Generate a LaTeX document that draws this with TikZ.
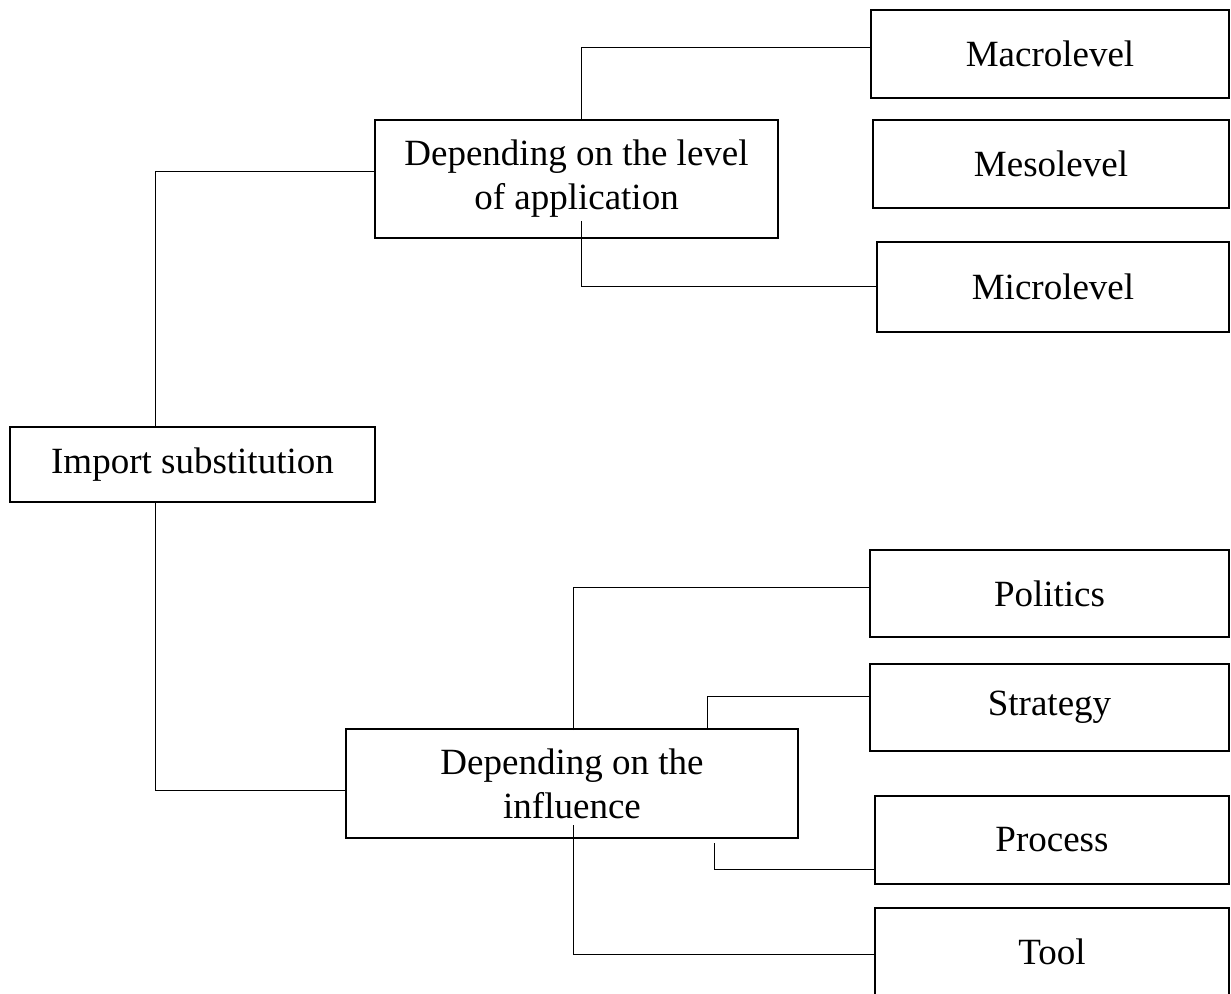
\documentclass[tikz,border=0pt]{standalone}
\usepackage{fontspec}
\setmainfont{Liberation Serif}
\usetikzlibrary{positioning}

\begin{document}
\begin{tikzpicture}[x=0.5pt, y=-0.5pt,
  box/.style={draw, line width=1pt, align=center, inner sep=2pt,
    font=\fontsize{18.5}{22}\selectfont},
  link/.style={line width=0.5pt}]
\useasboundingbox (0,0) rectangle (1231,994);
\node[box, minimum width=182.5pt, minimum height=37.5pt] (imp) at (192.5,464.5) {Import substitution};
\node[box, minimum width=201.5pt, minimum height=59pt] (lvl) at (576.5,179) {Depending on the level\\of application};
\node[box, minimum width=226pt, minimum height=54.5pt] (infl) at (572,783.5) {Depending on the\\influence};
% right column
\node[box, minimum width=179pt, minimum height=44pt] (macro) at (1050,54) {Macrolevel};
\node[box, minimum width=178pt, minimum height=44pt] (meso) at (1051,164) {Mesolevel};
\node[box, minimum width=176pt, minimum height=45pt] (micro) at (1053,287) {Microlevel};
\node[box, minimum width=179.5pt, minimum height=43.5pt] (pol) at (1049.5,593.5) {Politics};
\node[box, minimum width=179.5pt, minimum height=43.5pt] (strat) at (1049.5,707.5) {Strategy};
\node[box, minimum width=177pt, minimum height=44pt] (proc) at (1052,840) {Process};
\node[box, minimum width=177pt, minimum height=44pt] (tool) at (1052,952) {Tool};
% connectors
\draw[link] ([xshift=-18.75pt]imp.north) |- ([yshift=3.5pt]lvl.west);
\draw[link] ([xshift=-18.75pt]imp.south) |- ([yshift=-3.25pt]infl.west);
\draw[link] ([xshift=2.25pt]lvl.north) |- ([yshift=3pt]macro.west);
\draw[link] ([xshift=2.25pt,yshift=9pt]lvl.south) |- (micro.west);
\draw[link] ([xshift=0.5pt,yshift=-1pt]infl.north) |- ([yshift=3.25pt]pol.west);
\draw[link] ([xshift=67.5pt]infl.north) |- ([yshift=5.75pt]strat.west);
\draw[link] ([xshift=71pt,yshift=-2pt]infl.south) |- ([yshift=-14.5pt]proc.west);
\draw[link] ([xshift=0.5pt,yshift=7pt]infl.south) |- ([yshift=-1pt]tool.west);
\end{tikzpicture}
\end{document}
